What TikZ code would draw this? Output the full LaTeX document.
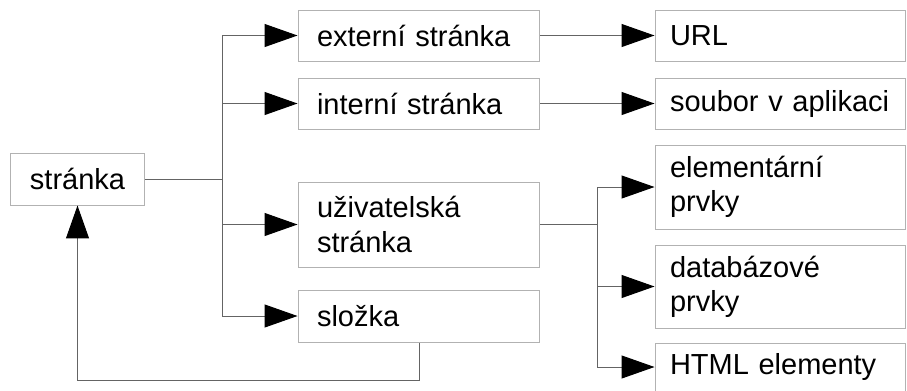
\documentclass[tikz,border=0pt]{standalone}
\usepackage{fontspec}
\setmainfont{Liberation Sans}
\usetikzlibrary{arrows.meta}
\usetikzlibrary{scopes}

\definecolor{boxgray}{RGB}{178,178,178}
\definecolor{linegray}{RGB}{100,100,100}

\tikzset{
  box/.style={draw=boxgray,line width=0.02cm,inner ysep=0pt,
    font=\fontsize{16.5}{19.5}\selectfont},
  midbox/.style={box,text width=4.08cm,inner xsep=0.38cm,align=left},
  rightbox/.style={box,text width=4.42cm,inner xsep=0.3cm,align=left},
  conn/.style={draw=linegray,line width=0.02cm},
}

\begin{document}
\begin{tikzpicture}[x=0.02cm,y=-0.02cm]

\useasboundingbox (0,0) rectangle (907,390);

%left
\node[box,minimum width=2.7cm,minimum height=1.04cm] (str) at (77.5,179) {stránka};

%middle column
\node[midbox,minimum height=1.02cm] (ext) at (419,35.5) {externí stránka};
\node[midbox,minimum height=1.02cm] (int) at (419,103.5) {interní stránka};
\node[midbox,minimum height=1.70cm] (uziv) at (419,224.5) {uživatelská\\stránka};
\node[midbox,minimum height=1.04cm] (slozka) at (419,316) {složka};

%right column
\node[rightbox,minimum height=1.02cm] (url) at (780.5,35.5) {URL};
\node[rightbox,minimum height=1.02cm] (soubor) at (780.5,103.5) {soubor v aplikaci};
\node[rightbox,minimum height=1.68cm] (elem) at (780.5,187) {elementární\\prvky};
\node[rightbox,minimum height=1.66cm] (db) at (780.5,286.5) {databázové\\prvky};
\node[rightbox,minimum height=0.96cm] (html) at (780.5,367) {HTML elementy};

%junctions
\coordinate (j1) at (222,179);
\coordinate (j2) at (597,224.5);

{[conn,-{Triangle[length=0.66cm,width=0.46cm,color=black]}]
	% from stranka
	\draw[-] (str.east) -- (j1);
	\draw (j1) |- (ext.west);
	\draw (j1) |- (int.west);
	\draw (j1) |- (uziv.west);
	\draw (j1) |- (slozka.west);

	\draw (ext.east) -- (url.west);
	\draw (int.east) -- (soubor.west);

	% from uzivatelska stranka
	\draw[-] (uziv.east) -- (j2);
	\draw (j2) |- (elem.west);
	\draw (j2) |- (db.west);
	\draw (j2) |- (html.west);

	% back to stranka
	\draw (slozka.south) -- ++(0,38) -| (str.south);
}

\end{tikzpicture}
\end{document}
